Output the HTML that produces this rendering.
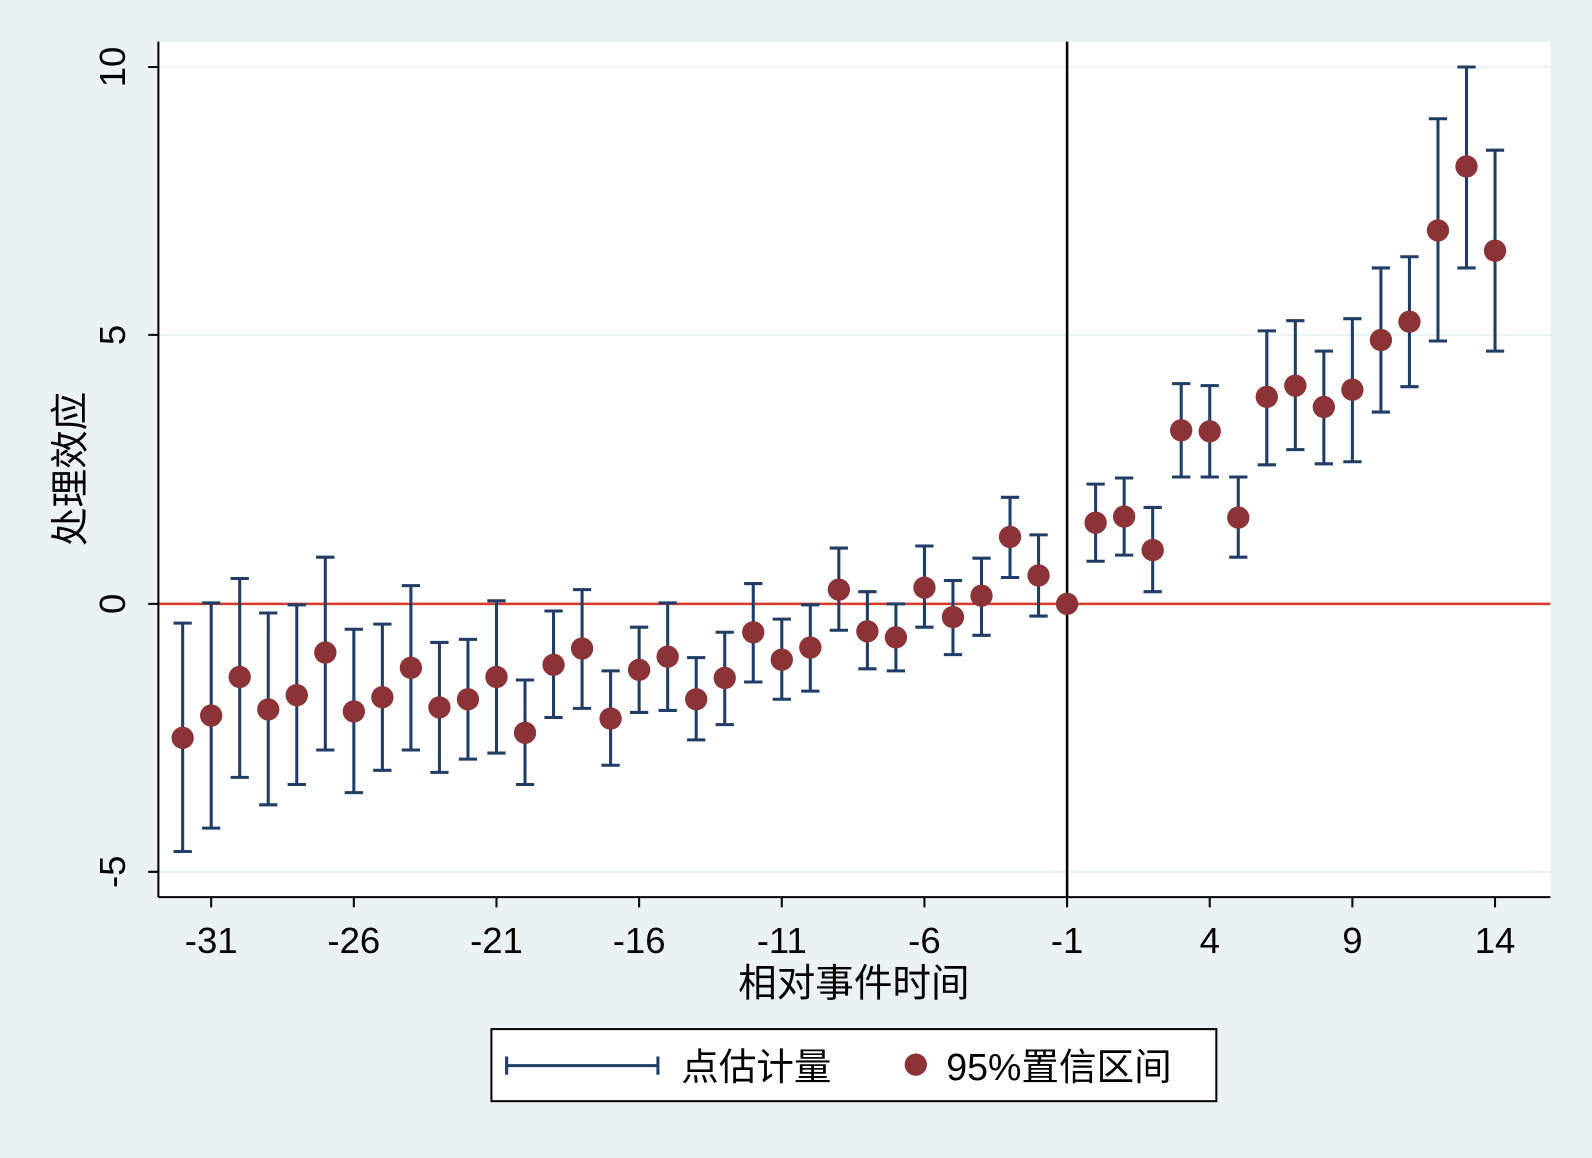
<!DOCTYPE html>
<html><head><meta charset="utf-8"><style>html,body{margin:0;padding:0;background:#eaf2f3}svg{display:block}</style></head>
<body>
<svg width="1592" height="1158" viewBox="0 0 1568 1141" preserveAspectRatio="none" xmlns="http://www.w3.org/2000/svg" font-family="Liberation Sans, Noto Sans CJK SC, sans-serif">
<rect width="1568" height="1141" fill="#eaf2f3"/>
<rect x="156" y="41" width="1371" height="843" fill="#fff"/>
<g stroke="#eaf2f3" stroke-width="2">
<line x1="156" y1="66" x2="1527" y2="66"/><line x1="156" y1="330" x2="1527" y2="330"/><line x1="156" y1="859" x2="1527" y2="859"/>
</g>
<line x1="156" y1="595" x2="1527" y2="595" stroke="#d93a2b" stroke-width="2.5"/>
<line x1="1051" y1="41" x2="1051" y2="884" stroke="#000" stroke-width="2.5"/>
<path fill="none" stroke="#1f3d66" stroke-width="3" d="M179.9 614V839M170.9 614h18M170.9 839h18M208 594V816M199 594h18M199 816h18M236.1 570V766M227.1 570h18M227.1 766h18M264.2 604V793M255.2 604h18M255.2 793h18M292.3 596V773M283.3 596h18M283.3 773h18M320.4 549V739M311.4 549h18M311.4 739h18M348.5 620V781M339.5 620h18M339.5 781h18M376.6 615V759M367.6 615h18M367.6 759h18M404.7 577V739M395.7 577h18M395.7 739h18M432.8 633V761M423.8 633h18M423.8 761h18M460.9 630V748M451.9 630h18M451.9 748h18M489 592V742M480 592h18M480 742h18M517.1 670V773M508.1 670h18M508.1 773h18M545.2 602V707M536.2 602h18M536.2 707h18M573.3 581V698M564.3 581h18M564.3 698h18M601.4 661V754M592.4 661h18M592.4 754h18M629.5 618V702M620.5 618h18M620.5 702h18M657.6 594V700M648.6 594h18M648.6 700h18M685.7 648V729M676.7 648h18M676.7 729h18M713.8 623V714M704.8 623h18M704.8 714h18M741.9 575V672M732.9 575h18M732.9 672h18M770 610V689M761 610h18M761 689h18M798.1 596V681M789.1 596h18M789.1 681h18M826.2 540V621M817.2 540h18M817.2 621h18M854.3 583V659M845.3 583h18M845.3 659h18M882.4 595V661M873.4 595h18M873.4 661h18M910.5 538V618M901.5 538h18M901.5 618h18M938.6 572V645M929.6 572h18M929.6 645h18M966.7 550V626M957.7 550h18M957.7 626h18M994.8 490V569M985.8 490h18M985.8 569h18M1022.9 527V607M1013.9 527h18M1013.9 607h18M1079.1 477V553M1070.1 477h18M1070.1 553h18M1107.2 471V547M1098.2 471h18M1098.2 547h18M1135.3 500V583M1126.3 500h18M1126.3 583h18M1163.4 378V470M1154.4 378h18M1154.4 470h18M1191.5 380V470M1182.5 380h18M1182.5 470h18M1219.6 470V549M1210.6 470h18M1210.6 549h18M1247.7 326V458M1238.7 326h18M1238.7 458h18M1275.8 316V443M1266.8 316h18M1266.8 443h18M1303.9 346V457M1294.9 346h18M1294.9 457h18M1332 314V455M1323 314h18M1323 455h18M1360.1 264V406M1351.1 264h18M1351.1 406h18M1388.2 253V381M1379.2 253h18M1379.2 381h18M1416.3 117V336M1407.3 117h18M1407.3 336h18M1444.4 66V264M1435.4 66h18M1435.4 264h18M1472.5 148V346M1463.5 148h18M1463.5 346h18"/>
<g fill="#8b3336">
<circle cx="179.9" cy="727" r="11"/><circle cx="208" cy="705" r="11"/><circle cx="236.1" cy="667" r="11"/><circle cx="264.2" cy="699" r="11"/><circle cx="292.3" cy="685" r="11"/><circle cx="320.4" cy="643" r="11"/><circle cx="348.5" cy="701" r="11"/><circle cx="376.6" cy="687" r="11"/><circle cx="404.7" cy="658" r="11"/><circle cx="432.8" cy="697" r="11"/><circle cx="460.9" cy="689" r="11"/><circle cx="489" cy="667" r="11"/><circle cx="517.1" cy="722" r="11"/><circle cx="545.2" cy="655" r="11"/><circle cx="573.3" cy="639" r="11"/><circle cx="601.4" cy="708" r="11"/><circle cx="629.5" cy="660" r="11"/><circle cx="657.6" cy="647" r="11"/><circle cx="685.7" cy="689" r="11"/><circle cx="713.8" cy="668" r="11"/><circle cx="741.9" cy="623" r="11"/><circle cx="770" cy="650" r="11"/><circle cx="798.1" cy="638" r="11"/><circle cx="826.2" cy="581" r="11"/><circle cx="854.3" cy="622" r="11"/><circle cx="882.4" cy="628" r="11"/><circle cx="910.5" cy="579" r="11"/><circle cx="938.6" cy="608" r="11"/><circle cx="966.7" cy="587" r="11"/><circle cx="994.8" cy="529" r="11"/><circle cx="1022.9" cy="567" r="11"/><circle cx="1051" cy="595" r="11"/><circle cx="1079.1" cy="515" r="11"/><circle cx="1107.2" cy="509" r="11"/><circle cx="1135.3" cy="542" r="11"/><circle cx="1163.4" cy="424" r="11"/><circle cx="1191.5" cy="425" r="11"/><circle cx="1219.6" cy="510" r="11"/><circle cx="1247.7" cy="391" r="11"/><circle cx="1275.8" cy="380" r="11"/><circle cx="1303.9" cy="401" r="11"/><circle cx="1332" cy="384" r="11"/><circle cx="1360.1" cy="335" r="11"/><circle cx="1388.2" cy="317" r="11"/><circle cx="1416.3" cy="227" r="11"/><circle cx="1444.4" cy="164" r="11"/><circle cx="1472.5" cy="247" r="11"/>
</g>
<line x1="156" y1="41" x2="156" y2="884" stroke="#000" stroke-width="2"/>
<line x1="156" y1="884" x2="1527" y2="884" stroke="#000" stroke-width="2"/>
<path stroke="#000" stroke-width="2" d="M146 66h10M146 330h10M146 595h10M146 859h10M208 884v10M348.5 884v10M489 884v10M629.5 884v10M770 884v10M910.5 884v10M1051 884v10M1191.5 884v10M1332 884v10M1472.5 884v10"/>
<g font-size="36" text-anchor="middle" fill="#000">
<text transform="translate(123,66) rotate(-90)">10</text>
<text transform="translate(123,330) rotate(-90)">5</text>
<text transform="translate(123,595) rotate(-90)">0</text>
<text transform="translate(123,859) rotate(-90)">-5</text>
<text x="208" y="939">-31</text><text x="348.5" y="939">-26</text><text x="489" y="939">-21</text><text x="629.5" y="939">-16</text><text x="770" y="939">-11</text><text x="910.5" y="939">-6</text><text x="1051" y="939">-1</text><text x="1191.5" y="939">4</text><text x="1332" y="939">9</text><text x="1472.5" y="939">14</text>
</g>
<text transform="translate(82,462) rotate(-90)" font-size="38" text-anchor="middle">处理效应</text>
<text x="841" y="982" font-size="38" text-anchor="middle">相对事件时间</text>
<rect x="484" y="1014" width="714" height="71" fill="#fff" stroke="#000" stroke-width="2"/>
<path stroke="#1f3d66" stroke-width="3" d="M499 1050H648M499 1041v18M648 1041v18"/>
<text x="671" y="1064" font-size="37">点估计量</text>
<circle cx="902" cy="1049" r="11" fill="#8b3336"/>
<text x="932" y="1064" font-size="37">95%置信区间</text>
</svg>
</body></html>
